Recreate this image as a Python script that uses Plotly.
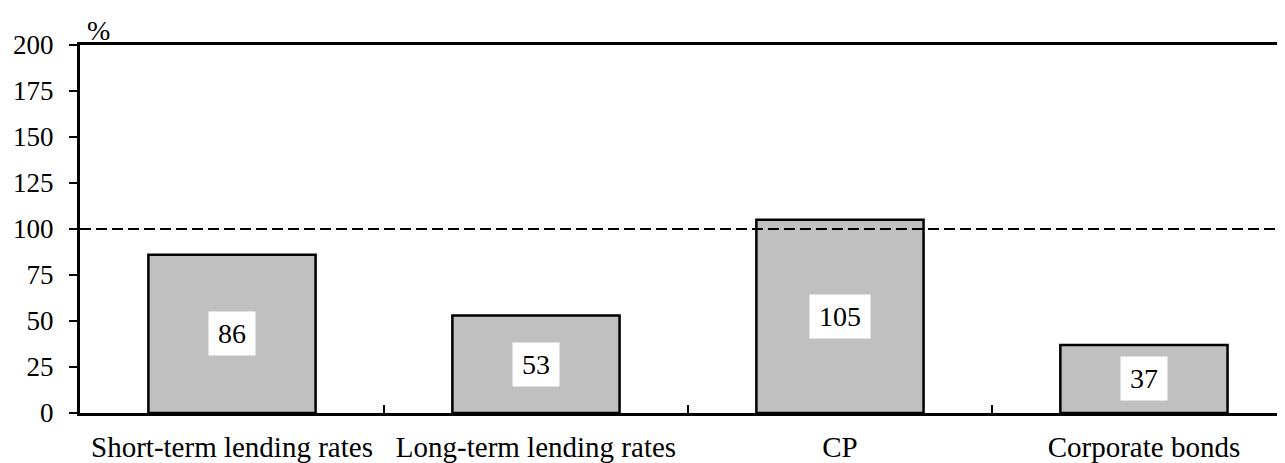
import plotly.graph_objects as go

# Data
categories = ["Short-term lending rates", "Long-term lending rates", "CP", "Corporate bonds"]
values = [86, 53, 105, 37]
y_ticks = [0, 25, 50, 75, 100, 125, 150, 175, 200]
reference_level = 100

FONT = "Liberation Serif, Times New Roman, serif"

fig = go.Figure()

# Bars
fig.add_trace(go.Bar(
    x=categories,
    y=values,
    width=0.55,
    marker=dict(color="#c0c0c0", line=dict(color="black", width=2.5)),
    showlegend=False,
    hoverinfo="skip",
))

# Dashed 100% line
fig.add_shape(type="line", xref="paper", yref="y",
              x0=0, x1=1, y0=reference_level, y1=reference_level,
              line=dict(color="black", width=2, dash="11px,5px"))

# Value labels in white boxes, halfway up each bar
for cat, v in zip(categories, values):
    label = str(v)
    fig.add_annotation(x=cat, y=v / 2, text=label, width=14 * len(label) + 6,
                       showarrow=False, bgcolor="white", borderpad=6,
                       font=dict(family=FONT, size=28, color="black"))

# Unit label
fig.add_annotation(xref="paper", yref="paper", x=0.004, y=1.0,
                   xanchor="left", yanchor="bottom", yshift=-3,
                   text="%", showarrow=False,
                   font=dict(family=FONT, size=28, color="black"))

# page body has an 8px margin, so the figure is sized/offset to compensate
fig.update_layout(
    width=1277,
    height=455,
    margin=dict(l=72, r=0, t=37, b=50),
    paper_bgcolor="white",
    plot_bgcolor="white",
    font=dict(family=FONT, size=28, color="black"),
    xaxis=dict(
        type="category",
        range=[-0.5, 3.464],
        showline=True, linecolor="black", linewidth=2.5, mirror=True,
        tickson="boundaries", ticks="inside", ticklen=8, tickwidth=2, tickcolor="black",
        showgrid=False, zeroline=False,
        ticklabelstandoff=6,
        tickfont=dict(family=FONT, size=29),
    ),
    yaxis=dict(
        range=[0, 200],
        tickvals=y_ticks,
        showline=True, linecolor="black", linewidth=3,
        ticks="outside", ticklen=8, tickwidth=2, tickcolor="black",
        showgrid=False, zeroline=False,
        ticklabelstandoff=10,
        tickfont=dict(family=FONT, size=27),
    ),
)

fig.write_html("out.html")
